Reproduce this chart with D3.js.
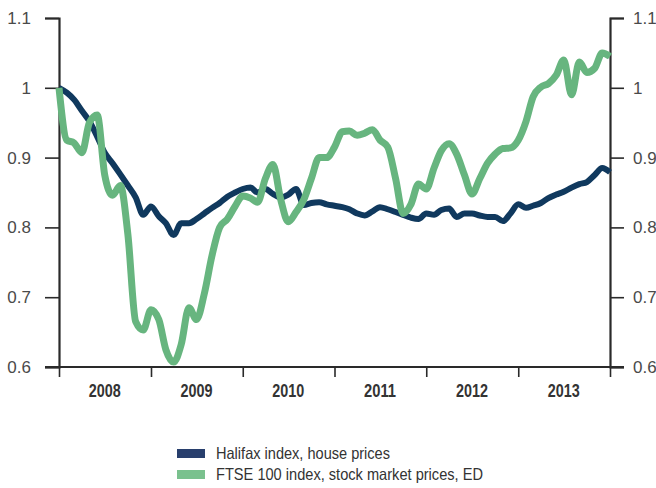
<!DOCTYPE html>
<html>
<head>
<meta charset="utf-8">
<script src="https://cdn.jsdelivr.net/npm/d3@7"></script>
<style>
  body { margin: 0; background: #fff; }
  text { font-family: "Liberation Sans Narrow", "Liberation Sans", sans-serif; }
</style>
</head>
<body>
<script>
let width = 656
let height = 488

// monthly, Jan 2008 .. Jan 2014
const halifax = [
  1.0, 0.993, 0.983, 0.967, 0.952, 0.93, 0.907, 0.892, 0.876, 0.86, 0.843, 0.818,
  0.83, 0.816, 0.806, 0.789, 0.806, 0.806, 0.812, 0.82, 0.828, 0.835, 0.844, 0.85,
  0.855, 0.857, 0.85, 0.855, 0.848, 0.843, 0.847, 0.855, 0.832, 0.835, 0.836, 0.833,
  0.831, 0.829, 0.826, 0.82, 0.817, 0.823, 0.829, 0.826, 0.822, 0.818, 0.814, 0.812,
  0.82, 0.818, 0.825, 0.827, 0.815, 0.82, 0.82, 0.817, 0.815, 0.815, 0.809, 0.82,
  0.833, 0.828, 0.831, 0.835, 0.842, 0.847, 0.851, 0.857, 0.862, 0.865, 0.875, 0.885,
  0.879
]
const ftse = [
  1.0, 0.925, 0.921, 0.907, 0.95, 0.961, 0.875, 0.846, 0.86, 0.79, 0.665, 0.653,
  0.682, 0.668, 0.625, 0.607, 0.632, 0.685, 0.668, 0.705, 0.76, 0.8, 0.812, 0.83,
  0.845, 0.842, 0.836, 0.87, 0.89, 0.84, 0.808, 0.822, 0.84, 0.87, 0.9, 0.9,
  0.915, 0.937, 0.938, 0.932, 0.935, 0.94, 0.925, 0.915, 0.87, 0.82, 0.833, 0.862,
  0.855, 0.885, 0.91, 0.92, 0.905, 0.875, 0.848, 0.87, 0.892, 0.905, 0.913, 0.914,
  0.925, 0.952, 0.987, 1.001, 1.006, 1.018, 1.04, 0.99, 1.037, 1.022, 1.028, 1.05,
  1.045
]
const years = [2008, 2009, 2010, 2011, 2012, 2013]
const yTicks = [0.6, 0.7, 0.8, 0.9, 1, 1.1]
const seriesNames = ['Halifax index, house prices', 'FTSE 100 index, stock market prices, ED']
const colors = ['#10395e', '#67b57f']
const legendColors = ['#283f6d', '#7ac18e']

const start = new Date(2008, 0, 1)
const dates = halifax.map((d, i) => d3.timeMonth.offset(start, i))

let svg = d3.select('body')
  .append('svg')
  .attr('width', width)
  .attr('height', height)

let x = d3.scaleTime()
  .domain([start, new Date(2014, 0, 1)])
  .range([59, 610])

let y = d3.scaleLinear()
  .domain([0.6, 1.1])
  .range([367, 18])

const fmt = d => d === 1 ? '1' : d3.format('.1f')(d)

// left axis
let left = svg.append('g')
  .attr('transform', 'translate(59,0)')
  .call(d3.axisLeft(y).tickValues(yTicks).tickFormat(fmt).tickSize(14).tickPadding(14))
// right axis
let right = svg.append('g')
  .attr('transform', 'translate(610,0)')
  .call(d3.axisRight(y).tickValues(yTicks).tickFormat(fmt).tickSize(14).tickPadding(9))
// bottom axis
let bottom = svg.append('g')
  .attr('transform', 'translate(0,367)')
  .call(d3.axisBottom(x).ticks(d3.timeYear.every(1)).tickFormat('').tickSize(10).tickSizeOuter(0))

svg.selectAll('.domain').attr('stroke', '#2a2a2a').attr('stroke-width', 2.2)
svg.selectAll('.tick line').attr('stroke', '#2a2a2a').attr('stroke-width', 1.6)
left.selectAll('.tick text').attr('font-size', 17).attr('fill', '#4a4a4a')
right.selectAll('.tick text').attr('font-size', 17).attr('fill', '#4a4a4a')
bottom.select('.domain').attr('d', 'M45,0H624')

// year labels, narrowed to mimic the condensed face
svg.append('g')
  .selectAll('text')
  .data(years)
  .enter()
  .append('text')
  .attr('x', d => x(new Date(d, 6, 1)) - 16)
  .attr('y', 397)
  .attr('font-size', 18)
  .attr('font-weight', 'bold')
  .attr('fill', '#333')
  .attr('textLength', 32)
  .attr('lengthAdjust', 'spacingAndGlyphs')
  .text(d => d)

let line = d3.line()
  .x((d, i) => x(dates[i]))
  .y(d => y(d))
  .curve(d3.curveMonotoneX)

svg.append('path')
  .attr('d', line(halifax))
  .attr('fill', 'none')
  .attr('stroke', colors[0])
  .attr('stroke-width', 6)
  .attr('stroke-linejoin', 'round')

svg.append('path')
  .attr('d', line(ftse))
  .attr('fill', 'none')
  .attr('stroke', colors[1])
  .attr('stroke-width', 7)
  .attr('stroke-linejoin', 'round')

// legend
const legendWidths = [174, 267]
let legend = svg.append('g')
  .selectAll('g')
  .data(seriesNames)
  .enter()
  .append('g')
  .attr('transform', (d, i) => 'translate(177,' + (449 + i * 21) + ')')

legend.append('rect')
  .attr('width', 28)
  .attr('height', 9)
  .attr('fill', (d, i) => legendColors[i])

legend.append('text')
  .attr('x', 39)
  .attr('y', 10)
  .attr('font-size', 16.5)
  .attr('fill', '#333')
  .attr('textLength', (d, i) => legendWidths[i])
  .attr('lengthAdjust', 'spacingAndGlyphs')
  .text(d => d)
</script>
</body>
</html>
